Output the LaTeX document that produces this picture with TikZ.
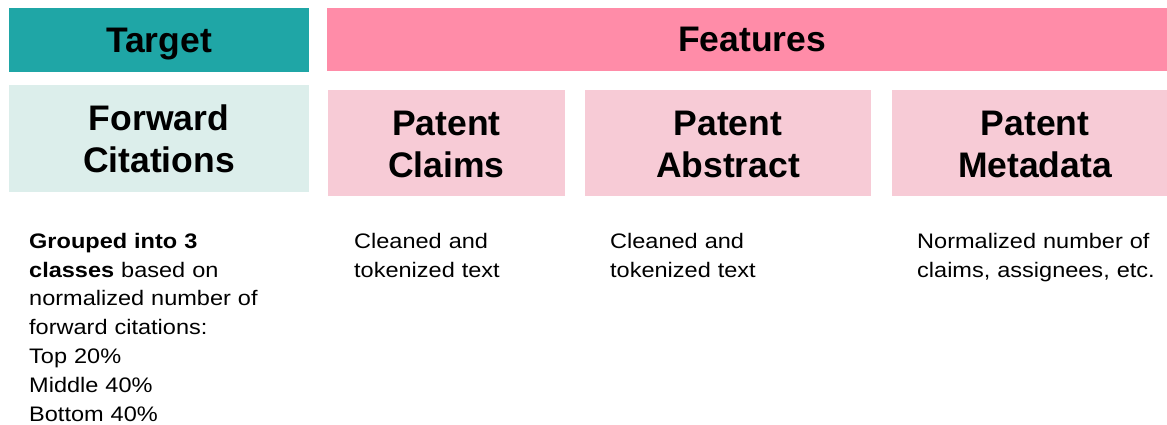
\documentclass[tikz,border=0pt]{standalone}
\usepackage{fontspec}
\setmainfont{Liberation Sans}
\newfontfamily\bodyfont[FakeStretch=1.12]{Liberation Sans}
\definecolor{teal}{HTML}{1FA6A6}
\definecolor{rosebar}{HTML}{FF8CA8}
\definecolor{paleteal}{HTML}{DCEEEB}
\definecolor{palerose}{HTML}{F7CBD6}
\tikzset{
  headtext/.style={font=\fontsize{35.5}{42}\selectfont\bfseries, anchor=base, inner sep=0pt},
  boxtext/.style={font=\fontsize{35.5}{42.3}\selectfont\bfseries, align=center, inner sep=0pt},
  notetext/.style={font=\bodyfont\fontsize{21}{28.8}\selectfont, anchor=base west,
    inner sep=0pt, text width=300pt, align=left}
}
\begin{document}
\begin{tikzpicture}[x=1pt, y=-1pt]
  \useasboundingbox[fill=white] (0,0) rectangle (1167,425);

  % header bars
  \fill[teal] (9,8) rectangle (309,72);
  \fill[rosebar] (327,8) rectangle (1167,71);
  \node[headtext] (target) at (159,52.3) {Target};
  \node[headtext] (features) at (752,51.8) {Features};

  % category boxes
  \fill[paleteal] (9,85) rectangle (309,192);
  \fill[palerose] (328,90) rectangle (565,196);
  \fill[palerose] (585,90) rectangle (871,196);
  \fill[palerose] (892,90) rectangle (1167,196);
  \node[boxtext] (fwd) at (159,139) {Forward\\Citations};
  \node[boxtext] (claims) at (446.5,144.3) {Patent\\Claims};
  \node[boxtext] (abstract) at (728,144.3) {Patent\\Abstract};
  \node[boxtext] (meta) at (1035,144.3) {Patent\\Metadata};

  % descriptions
  \node[notetext] (fwdnote) at (29,248.3) {\textbf{Grouped into 3}\\\textbf{classes} based on\\normalized number of\\forward citations:\\Top 20\%\\Middle 40\%\\Bottom 40\%};
  \node[notetext] (claimsnote) at (354,248.3) {Cleaned and\\tokenized text};
  \node[notetext] (abstractnote) at (610,248.3) {Cleaned and\\tokenized text};
  \node[notetext] (metanote) at (917,248.3) {Normalized number of\\claims, assignees, etc.};
\end{tikzpicture}
\end{document}
